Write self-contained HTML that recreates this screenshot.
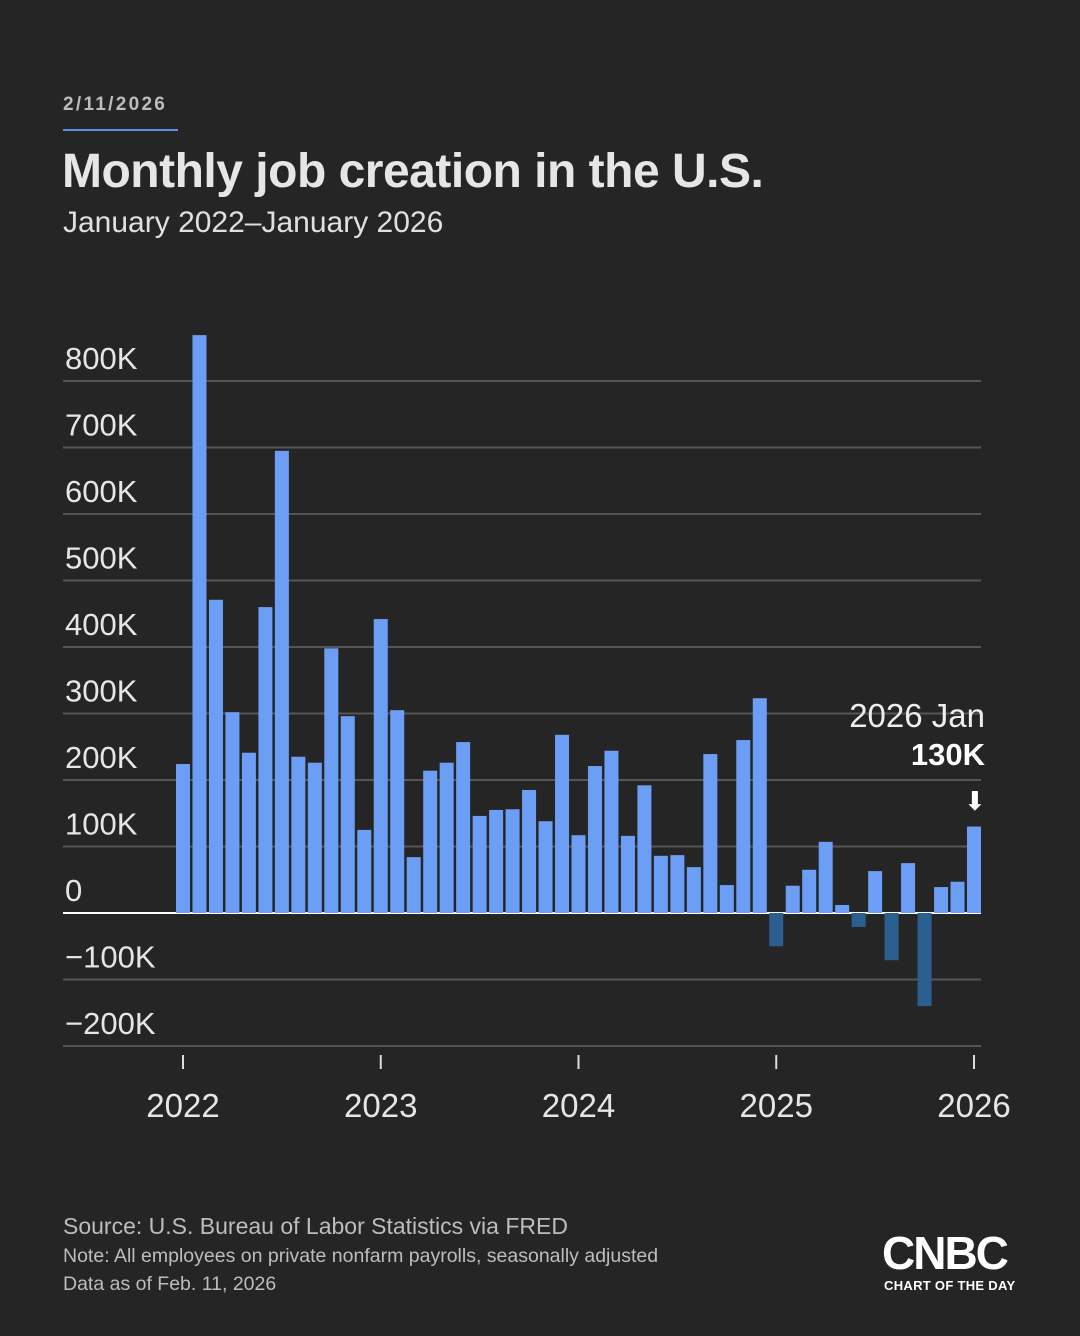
<!DOCTYPE html>
<html><head><meta charset="utf-8"><style>
html,body{margin:0;padding:0;background:#252525;}
body{width:1080px;height:1336px;position:relative;overflow:hidden;font-family:"Liberation Sans",sans-serif;color:#e8e8e8;}
.abs{position:absolute;}
</style></head><body>
<div class="abs" style="left:63px;top:94px;font-size:19px;font-weight:bold;letter-spacing:2.3px;color:#bdbdbd;">2/11/2026</div>
<div class="abs" style="left:63px;top:129px;width:115px;height:2px;background:#5b8fe0;"></div>
<div class="abs" style="left:62px;top:144px;font-size:48px;font-weight:bold;color:#e6e6e6;letter-spacing:-0.5px;">Monthly job creation in the U.S.</div>
<div class="abs" style="left:63px;top:206px;font-size:30px;color:#e0e0e0;">January 2022–January 2026</div>
<svg class="abs" style="left:0;top:0" width="1080" height="1336">
<g id="grid"></g><g id="bars"></g><g id="xaxis"></g>
</svg>
<div class="abs" style="left:780px;top:697px;width:205px;text-align:right;font-size:33px;color:#eee;">2026 Jan</div>
<div class="abs" style="left:780px;top:737px;width:205px;text-align:right;font-size:31px;font-weight:bold;color:#fff;">130K</div>
<div class="abs" style="left:964px;top:786px;font-size:26px;color:#fff;">&#x2B07;</div>
<div class="abs" style="left:63px;top:1213px;font-size:23px;color:#bdbdbd;">Source: U.S. Bureau of Labor Statistics via FRED</div>
<div class="abs" style="left:63px;top:1245px;font-size:19.5px;color:#bdbdbd;">Note: All employees on private nonfarm payrolls, seasonally adjusted</div>
<div class="abs" style="left:63px;top:1273px;font-size:19.5px;color:#bdbdbd;">Data as of Feb. 11, 2026</div>
<div class="abs" style="left:882px;top:1226px;font-size:46px;font-weight:bold;color:#fff;letter-spacing:-2px;">CNBC</div>
<div class="abs" style="left:884px;top:1278px;font-size:13px;font-weight:bold;color:#fff;letter-spacing:0.3px;">CHART OF THE DAY</div>
<script>
const values=[224,869,471,302,241,460,695,235,226,398,296,125,442,305,84,214,226,257,146,155,156,185,138,268,117,221,244,116,192,86,87,69,239,42,260,323,-50,41,65,107,12,-21,63,-71,75,-140,39,47,130];
const yTicks=[-200,-100,0,100,200,300,400,500,600,700,800];
const yTickLabels=["−200K","−100K","0","100K","200K","300K","400K","500K","600K","700K","800K"];
const xYears=["2022","2023","2024","2025","2026"];
const NS="http://www.w3.org/2000/svg";
const y0=913, pxPer=0.665, x0=183, step=(974-183)/48;
const yS=v=>y0-v*pxPer, xS=i=>x0+i*step;
const grid=document.getElementById('grid'),bars=document.getElementById('bars'),xa=document.getElementById('xaxis');
yTicks.forEach((t,i)=>{
 const l=document.createElementNS(NS,'line');
 l.setAttribute('x1',63);l.setAttribute('x2',981);l.setAttribute('y1',yS(t));l.setAttribute('y2',yS(t));
 l.setAttribute('stroke','#555');l.setAttribute('stroke-width',2);
 
 
 grid.appendChild(l);
 const tx=document.createElementNS(NS,'text');
 tx.setAttribute('x',65);tx.setAttribute('y',yS(t)-12);tx.setAttribute('font-size',31);tx.setAttribute('fill','#e6e6e6');
 tx.textContent=yTickLabels[i];
 
 
 grid.appendChild(tx);
});
values.forEach((v,i)=>{
 const r=document.createElementNS(NS,'rect');
 const top=v>=0?yS(v):y0, h=Math.abs(v)*pxPer;
 r.setAttribute('x',xS(i)-7);r.setAttribute('y',top);r.setAttribute('width',14);r.setAttribute('height',h);
 r.setAttribute('fill',v>=0?'#6d9ef5':'#2b5f8f');
 
 
 bars.appendChild(r);
});
const zl=document.createElementNS(NS,'line');
zl.setAttribute('x1',63);zl.setAttribute('x2',981);zl.setAttribute('y1',y0);zl.setAttribute('y2',y0);
zl.setAttribute('stroke','#fff');zl.setAttribute('stroke-width',2);


grid.appendChild(zl);
xYears.forEach((yr,i)=>{
 const x=xS(i*12);
 const t=document.createElementNS(NS,'line');
 t.setAttribute('x1',x);t.setAttribute('x2',x);t.setAttribute('y1',1055);t.setAttribute('y2',1069);
 t.setAttribute('stroke','#ddd');t.setAttribute('stroke-width',2);
 
 
 xa.appendChild(t);
 const tx=document.createElementNS(NS,'text');
 tx.setAttribute('x',x);tx.setAttribute('y',1117);tx.setAttribute('text-anchor','middle');tx.setAttribute('font-size',33);tx.setAttribute('fill','#e6e6e6');
 tx.textContent=yr;
 
 
 xa.appendChild(tx);
});
</script>
</body></html>
